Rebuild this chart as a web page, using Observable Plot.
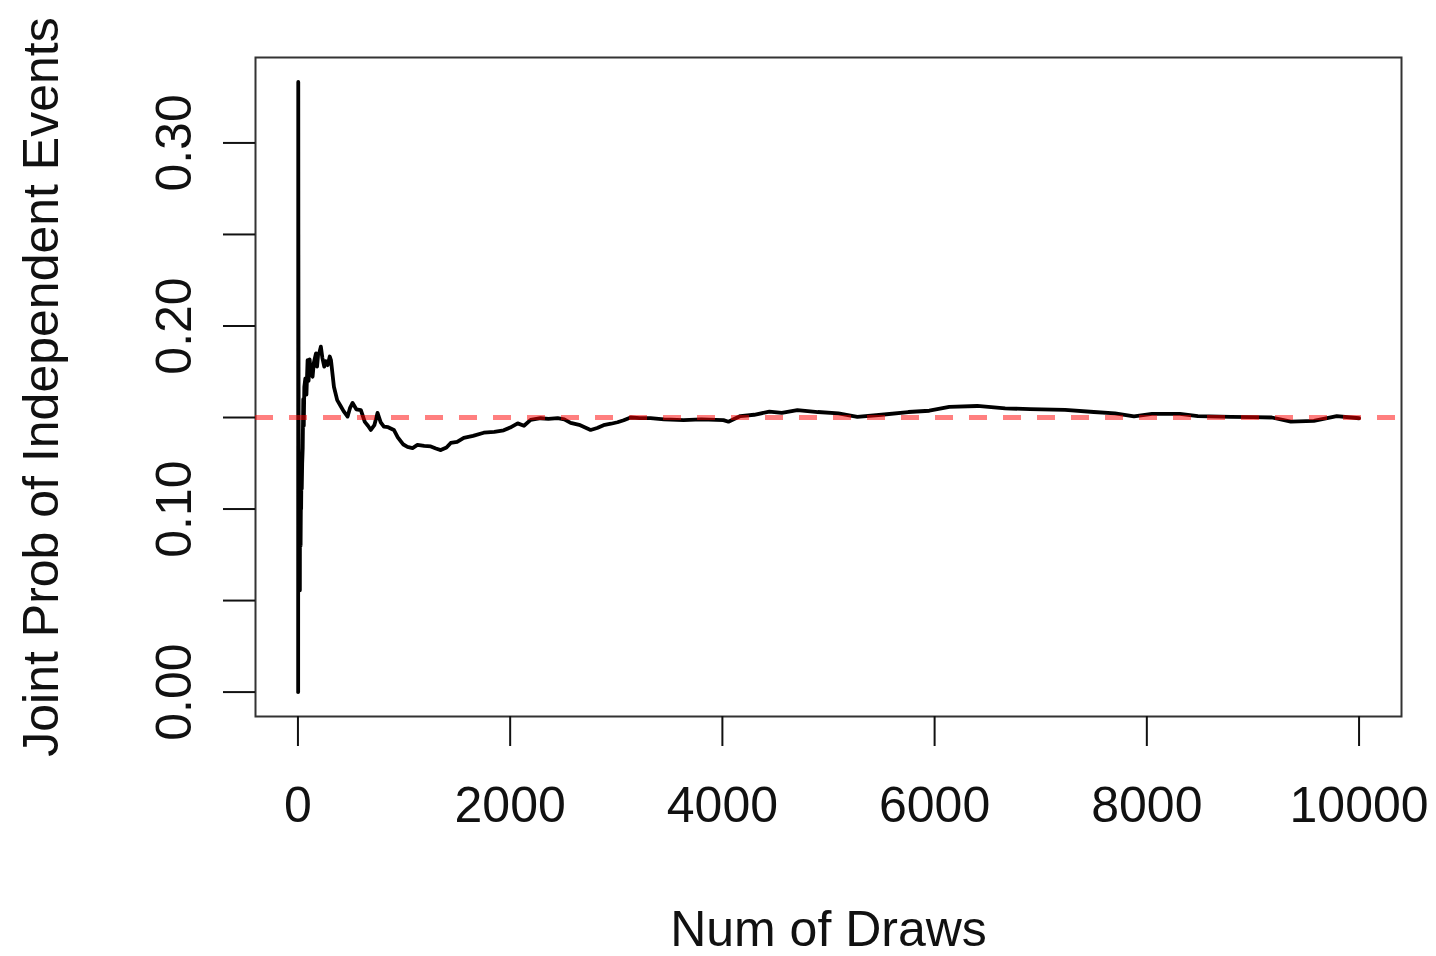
<!DOCTYPE html>
<html><head><meta charset="utf-8">
<script src="https://cdn.jsdelivr.net/npm/d3@7"></script>
<script src="https://cdn.jsdelivr.net/npm/@observablehq/plot@0.6"></script>
<style>body{margin:0;background:#fff}</style>
</head><body><div id="chart"></div>
<script>
const draws = [1,2,3,4,5,6,7,8,9,10,11,12,13,14,15,16,17,18,19,20,22,25,28,30,33,36,40,45,50,55,60,70,80,91,100,110,120,138,150,170,180,190,200,216,230,248,260,280,300,311,339,370,405,430,468,490,515,550,593,630,660,687,720,750,780,810,850,904,941,990,1032,1080,1126,1190,1252,1300,1346,1400,1440,1500,1563,1650,1751,1850,1939,2000,2071,2130,2193,2287,2360,2448,2510,2570,2650,2758,2820,2880,2950,3012,3070,3135,3220,3323,3450,3634,3800,4010,4057,4170,4300,4443,4560,4707,4900,5093,5272,5500,5752,5950,6138,6402,6665,6900,7230,7500,7700,7879,8048,8312,8481,8792,9000,9178,9357,9574,9790,10000];
const jointProb = [0,0,0.3333,0.25,0.2,0.1667,0.1429,0.125,0.1111,0.1,0.0909,0.0833,0.0769,0.0714,0.0667,0.0625,0.0588,0.0556,0.1053,0.1,0.0909,0.08,0.1071,0.1,0.1212,0.1111,0.125,0.1333,0.16,0.1455,0.1667,0.1714,0.1625,0.1814,0.17,0.1818,0.175,0.1723,0.18,0.185,0.1778,0.1842,0.185,0.1887,0.1826,0.1778,0.1808,0.1786,0.1833,0.1814,0.1668,0.1595,0.156,0.1535,0.1505,0.1551,0.158,0.1545,0.154,0.1476,0.1455,0.1432,0.1458,0.1525,0.1474,0.145,0.1447,0.1432,0.1392,0.1354,0.134,0.1333,0.135,0.1345,0.1342,0.1331,0.1322,0.1336,0.1361,0.1367,0.1389,0.14,0.1417,0.1422,0.143,0.1445,0.1468,0.1455,0.1487,0.1496,0.1492,0.1497,0.149,0.1471,0.146,0.1432,0.1443,0.1458,0.1466,0.1474,0.1485,0.15,0.1497,0.1497,0.149,0.1486,0.149,0.1486,0.1477,0.1508,0.1515,0.1532,0.1525,0.154,0.153,0.1523,0.1504,0.1515,0.153,0.1537,0.1558,0.1563,0.155,0.1546,0.1542,0.153,0.1523,0.1506,0.152,0.152,0.1508,0.1504,0.1502,0.15,0.1478,0.1482,0.1508,0.1496];
const trueProb = 0.15;
const xTicks = [0, 2000, 4000, 6000, 8000, 10000];
const xTickLabels = ["0", "2000", "4000", "6000", "8000", "10000"];
const yTicks = [0, 0.05, 0.1, 0.15, 0.2, 0.25, 0.3];
const yTickLabels = ["0.00", "", "0.10", "", "0.20", "", "0.30"];
const xLabel = "Num of Draws";
const yLabel = "Joint Prob of Independent Events";

const data = draws.map((n, i) => ({n, p: jointProb[i]}));
const chart = Plot.plot({
  width: 1436, height: 956,
  marginLeft: 255, marginRight: 35, marginTop: 57, marginBottom: 240,
  style: {fontFamily: "'Liberation Sans', Arial, sans-serif", fontSize: "50px", color: "#111", background: "#fff"},
  x: {domain: [-400, 10400]},
  y: {domain: [-0.013333, 0.346667]},
  marks: [
    Plot.frame({stroke: "#333", strokeWidth: 2}),
    Plot.line(data, {x: "n", y: "p", stroke: "#000", strokeWidth: 3.8}),
    Plot.ruleY([trueProb], {stroke: "red", strokeOpacity: 0.5, strokeWidth: 5, strokeDasharray: "18,16"}),
    Plot.axisX(xTicks, {tickSize: 30, tickPadding: 40, strokeWidth: 2,
      tickFormat: d => xTickLabels[xTicks.indexOf(d)],
      label: xLabel, labelAnchor: "center", labelArrow: "none", labelOffset: 229}),
    Plot.axisY(yTicks, {tickSize: 32, tickPadding: 33, strokeWidth: 2, tickRotate: -90,
      tickFormat: d => yTickLabels[yTicks.indexOf(d)],
      label: yLabel, labelAnchor: "center", labelArrow: "none", labelOffset: 233})
  ]
});
document.getElementById("chart").appendChild(chart);
</script>
</body></html>
